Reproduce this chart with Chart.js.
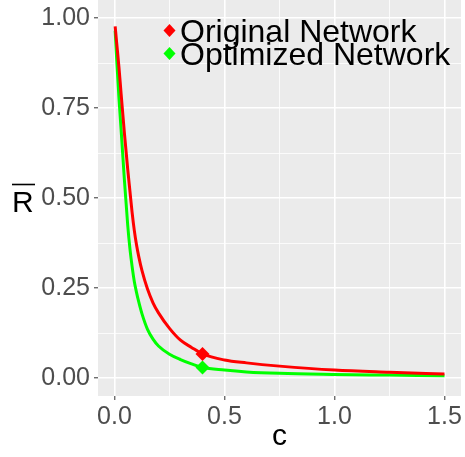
<!DOCTYPE html>
<html>
<head>
<meta charset="utf-8">
<script src="https://cdn.jsdelivr.net/npm/chart.js@4.4.0/dist/chart.umd.min.js"></script>
<style>
  html, body { margin: 0; padding: 0; background: #fff; }
</style>
</head>
<body>
<canvas id="chart" width="465" height="457"></canvas>
<script>
// values
const cValues    = [0.003, 0.01, 0.02, 0.03, 0.045, 0.06, 0.07, 0.08, 0.09, 0.1, 0.11, 0.125, 0.15, 0.175, 0.2, 0.25, 0.3, 0.35, 0.4, 0.5, 0.6, 0.75, 1.0, 1.25, 1.5];
const originalR  = [0.977, 0.93, 0.865, 0.79, 0.68, 0.58, 0.52, 0.46, 0.41, 0.37, 0.338, 0.298, 0.247, 0.209, 0.181, 0.138, 0.105, 0.085, 0.067, 0.050, 0.042, 0.033, 0.022, 0.016, 0.011];
const optimizedR = [0.965, 0.885, 0.78, 0.69, 0.55, 0.425, 0.36, 0.31, 0.268, 0.238, 0.212, 0.178, 0.135, 0.108, 0.089, 0.066, 0.051, 0.039, 0.029, 0.022, 0.017, 0.013, 0.010, 0.008, 0.006];
const markerC = 0.4;

const seriesLabels = ['Original Network', 'Optimized Network'];
const seriesColors = ['#FF0000', '#00FF00'];

const xTicks = [0, 0.5, 1.0, 1.5];
const xTickLabels = ['0.0', '0.5', '1.0', '1.5'];
const yTicks = [0, 0.25, 0.5, 0.75, 1.0];
const yTickLabels = ['0.00', '0.25', '0.50', '0.75', '1.00'];

const FONT = "'Liberation Sans', Arial, sans-serif";
const X_MIN = -0.075, X_MAX = 1.575;
const Y_MIN = -0.05, Y_MAX = 1.05;

// major breaks plus the midpoints between them (ggplot minor grid)
function withMinor(majors, lo, hi) {
    const step = majors[1] - majors[0];
    const out = [];
    for (let v = majors[0] - step / 2; v <= hi + 1e-9; v += step / 2) {
        if (v >= lo - 1e-9) out.push(Math.round(v * 1e6) / 1e6);
    }
    return out;
}
const isMajor = (list, v) => list.some(t => Math.abs(t - v) < 1e-6);
const labelFor = (list, labels, v) => {
    const i = list.findIndex(t => Math.abs(t - v) < 1e-6);
    return i < 0 ? '' : labels[i];
};

function makeSeries(values) {
    return cValues.map((c, i) => ({ x: c, y: values[i] }));
}

// grey panel behind the grid
const panelBg = {
    id: 'panelBg',
    beforeDraw(chart) {
        const { ctx, chartArea: a } = chart;
        ctx.save();
        ctx.fillStyle = '#EBEBEB';
        ctx.fillRect(a.left, a.top, a.right - a.left, a.bottom - a.top);
        ctx.restore();
    }
};

// legend inside the panel + unrotated y title with overline
const overlay = {
    id: 'overlay',
    afterDraw(chart) {
        const ctx = chart.ctx;
        ctx.save();
        // legend
        const keyX = 169.5, keyY = [30.5, 53.5], textY = [42, 65];
        ctx.font = '32px ' + FONT;
        ctx.textAlign = 'left';
        ctx.textBaseline = 'alphabetic';
        chart.data.datasets.forEach((ds, i) => {
            ctx.fillStyle = ds.borderColor;
            ctx.beginPath();
            ctx.moveTo(keyX, keyY[i] - 6.5);
            ctx.lineTo(keyX + 6, keyY[i]);
            ctx.lineTo(keyX, keyY[i] + 6.5);
            ctx.lineTo(keyX - 6, keyY[i]);
            ctx.closePath();
            ctx.fill();
            ctx.fillStyle = '#000';
            ctx.fillText(ds.label, 180, textY[i]);
        });
        // y title
        ctx.font = '30px ' + FONT;
        ctx.fillStyle = '#000';
        ctx.fillText('R', 12, 212);
        ctx.strokeStyle = '#000';
        ctx.lineWidth = 1.6;
        ctx.beginPath();
        ctx.moveTo(12, 184.5);
        ctx.lineTo(35, 184.5);
        ctx.stroke();
        ctx.restore();
    }
};

const datasets = [originalR, optimizedR].map((vals, i) => ({
    label: seriesLabels[i],
    data: makeSeries(vals),
    borderColor: seriesColors[i],
    backgroundColor: seriesColors[i],
    borderWidth: 3,
    cubicInterpolationMode: 'monotone',
    pointStyle: 'rectRot',
    pointRadius: ctx => (ctx.raw && Math.abs(ctx.raw.x - markerC) < 1e-9 ? 7 : 0),
    pointHoverRadius: 0,
    pointBorderWidth: 0,
    pointBackgroundColor: seriesColors[i]
}));

new Chart(document.getElementById('chart'), {
    type: 'line',
    data: { datasets },
    plugins: [panelBg, overlay],
    options: {
        responsive: false,
        animation: false,
        layout: { padding: { top: 0, right: 4, left: 0, bottom: 0 } },
        plugins: { legend: { display: false }, tooltip: { enabled: false } },
        scales: {
            x: {
                type: 'linear',
                min: X_MIN,
                max: X_MAX,
                afterBuildTicks: s => { s.ticks = withMinor(xTicks, X_MIN, X_MAX).map(v => ({ value: v })); },
                afterFit: s => { s.height = 61; s.paddingLeft = 0; s.paddingRight = 0; },
                border: { display: false },
                grid: {
                    color: '#FFFFFF',
                    lineWidth: c => (isMajor(xTicks, c.tick.value) ? 1.6 : 0.8),
                    tickLength: 4,
                    tickWidth: 1,
                    tickColor: c => (isMajor(xTicks, c.tick.value) ? '#333333' : 'rgba(0,0,0,0)')
                },
                ticks: {
                    autoSkip: false,
                    maxRotation: 0,
                    padding: 2,
                    color: '#4D4D4D',
                    font: { family: FONT, size: 25 },
                    callback: v => labelFor(xTicks, xTickLabels, v)
                },
                title: {
                    display: true,
                    text: 'c',
                    color: '#000',
                    font: { family: FONT, size: 30 },
                    padding: { top: 0, bottom: 2 }
                }
            },
            y: {
                type: 'linear',
                min: Y_MIN,
                max: Y_MAX,
                afterBuildTicks: s => { s.ticks = withMinor(yTicks, Y_MIN, Y_MAX).map(v => ({ value: v })); },
                afterFit: s => { s.width = 98; s.paddingTop = 0; s.paddingBottom = 0; },
                border: { display: false },
                grid: {
                    color: '#FFFFFF',
                    lineWidth: c => (isMajor(yTicks, c.tick.value) ? 1.6 : 0.8),
                    tickLength: 4,
                    tickWidth: 1,
                    tickColor: c => (isMajor(yTicks, c.tick.value) ? '#333333' : 'rgba(0,0,0,0)')
                },
                ticks: {
                    autoSkip: false,
                    padding: 4,
                    color: '#4D4D4D',
                    font: { family: FONT, size: 25 },
                    callback: v => labelFor(yTicks, yTickLabels, v)
                }
            }
        }
    }
});
</script>
</body>
</html>
